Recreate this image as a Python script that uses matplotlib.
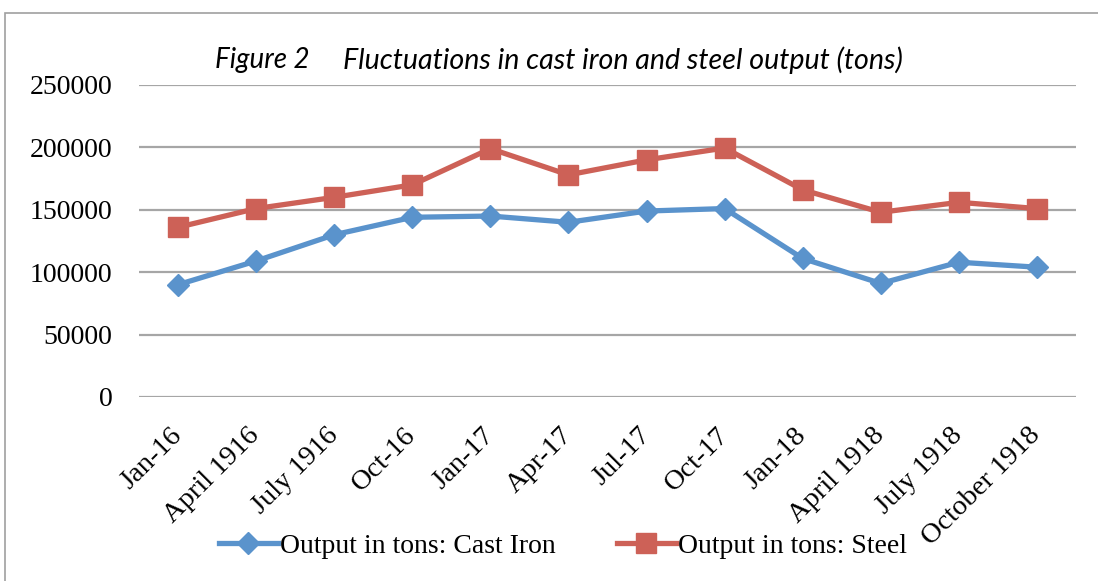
import matplotlib
matplotlib.use("Agg")
import matplotlib.pyplot as plt
from matplotlib.patches import Rectangle

categories = ["Jan-16", "April 1916", "July 1916", "Oct-16", "Jan-17", "Apr-17",
              "Jul-17", "Oct-17", "Jan-18", "April 1918", "July 1918", "October 1918"]
cast_iron = [90000, 109000, 130000, 144000, 145000, 140000,
             149000, 151000, 111000, 91000, 108000, 104000]
steel = [136000, 151000, 160000, 170000, 199000, 178000,
         190000, 199500, 166000, 148000, 156000, 151000]
yticks = [0, 50000, 100000, 150000, 200000, 250000]

blue = "#5A93CC"
red = "#CD6157"
serif = "Liberation Serif"

fig = plt.figure(figsize=(10.98, 5.81), dpi=100)
ax = fig.add_axes([139/1098, 1-397/581, (1076-139)/1098, (397-85)/581])

x = list(range(len(categories)))
ax.plot(x, cast_iron, color=blue, lw=3.8, marker="D", ms=11, mec=blue, mfc=blue,
        label="Output in tons: Cast Iron", zorder=3)
ax.plot(x, steel, color=red, lw=3.8, marker="s", ms=15, mec=red, mfc=red,
        label="Output in tons: Steel", zorder=3)

ax.set_xlim(-0.5, len(categories) - 0.5)
ax.set_ylim(0, 250000)
ax.set_yticks(yticks)
ax.set_yticklabels([str(v) for v in yticks], fontfamily=serif, fontsize=20)
ax.set_xticks(x)
ax.set_xticklabels(categories, fontfamily=serif, fontsize=20.5, rotation=45,
                   ha="right", va="center", rotation_mode="anchor")
ax.tick_params(axis="both", length=0)
ax.tick_params(axis="y", pad=19)
ax.tick_params(axis="x", pad=25)
ax.grid(axis="y", color="#A6A6A6", lw=1.6)
ax.set_axisbelow(True)
for s in ax.spines.values():
    s.set_visible(False)

fig.text(215/1098, 1-60/581, "Figure 2", fontfamily="Lato", fontstyle="italic",
         fontsize=20, ha="left", va="center")
fig.text(903/1098, 1-60/581, "Fluctuations in cast iron and steel output (tons)",
         fontfamily="Lato", fontstyle="italic", fontsize=20.6, ha="right", va="center")

leg = fig.legend(loc="center", bbox_to_anchor=(0.513, 1-546/581), ncol=2, frameon=False,
                 prop={"family": serif, "size": 20}, handlelength=2.1, handletextpad=0.1,
                 columnspacing=2.2, borderaxespad=0)

fig.patches.append(Rectangle((5/1098, -0.1), 1.2, 1-13/581+0.1, transform=fig.transFigure,
                             fill=False, edgecolor="#A0A0A0", lw=1.2))

fig.savefig("out.png", dpi=100)
